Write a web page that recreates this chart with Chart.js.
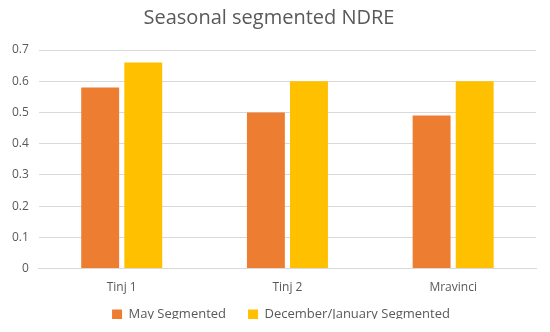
<!DOCTYPE html>
<html><head><meta charset="utf-8">
<script src="https://cdn.jsdelivr.net/npm/chart.js@4/dist/chart.umd.min.js"></script>
<style>html,body{margin:0;padding:0;background:#fff}#wrap{width:550px;height:332px}</style>
</head><body><div id="wrap"><canvas id="c" width="550" height="332"></canvas></div>
<script>
const categories = ["Tinj 1", "Tinj 2", "Mravinci"];
const maySegmented = [0.58, 0.50, 0.49];
const decJanSegmented = [0.66, 0.60, 0.60];
const seriesNames = ["May Segmented", "December/January Segmented"];
const yTicks = [0, 0.1, 0.2, 0.3, 0.4, 0.5, 0.6, 0.7];

const legendFix = {
  id: 'legendFix',
  beforeLayout(chart) {
    const l = chart.legend;
    if (l && !l._patched) {
      const f = l.fit.bind(l);
      l.fit = function () { f(); this.height -= 12; };
      const d = l.draw.bind(l);
      l.draw = function () {
        const ctx = this.ctx;
        ctx.save(); ctx.translate(12, -13); d(); ctx.restore();
      };
      l._patched = true;
    }
  }
};

new Chart(document.getElementById('c'), {
  type: 'bar',
  data: {
    labels: categories,
    datasets: [
      {label: seriesNames[0], data: maySegmented, backgroundColor: '#ED7D31', categoryPercentage: 0.52, barPercentage: 0.88},
      {label: seriesNames[1], data: decJanSegmented, backgroundColor: '#FFC000', categoryPercentage: 0.52, barPercentage: 0.88}
    ]
  },
  plugins: [legendFix],
  options: {
    responsive: false,
    animation: false,
    layout: {padding: {left: 2, right: 14, top: 6, bottom: 0}},
    plugins: {
      title: {display: true, text: 'Seasonal segmented NDRE', color: '#595959',
        font: {family: 'Open Sans', size: 20, weight: 'normal'}, padding: {top: 0, bottom: 20}},
      legend: {position: 'bottom', labels: {color: '#595959', font: {family: 'Open Sans', size: 13},
        boxWidth: 10, boxHeight: 10, padding: 22}},
      tooltip: {enabled: false}
    },
    scales: {
      x: {grid: {display: false}, border: {display: true, color: '#d9d9d9'},
        ticks: {color: '#595959', font: {family: 'Open Sans', size: 12}, padding: 4}},
      y: {min: 0, max: 0.7, afterBuildTicks: (s) => { s.ticks = yTicks.map(v => ({value: v})); },
        grid: {color: '#d9d9d9', drawTicks: false}, border: {display: false},
        ticks: {color: '#595959', font: {family: 'Open Sans', size: 12}, padding: 10,
          callback: (v) => String(Math.round(v * 10) / 10)}}
    }
  }
});
</script></body></html>
